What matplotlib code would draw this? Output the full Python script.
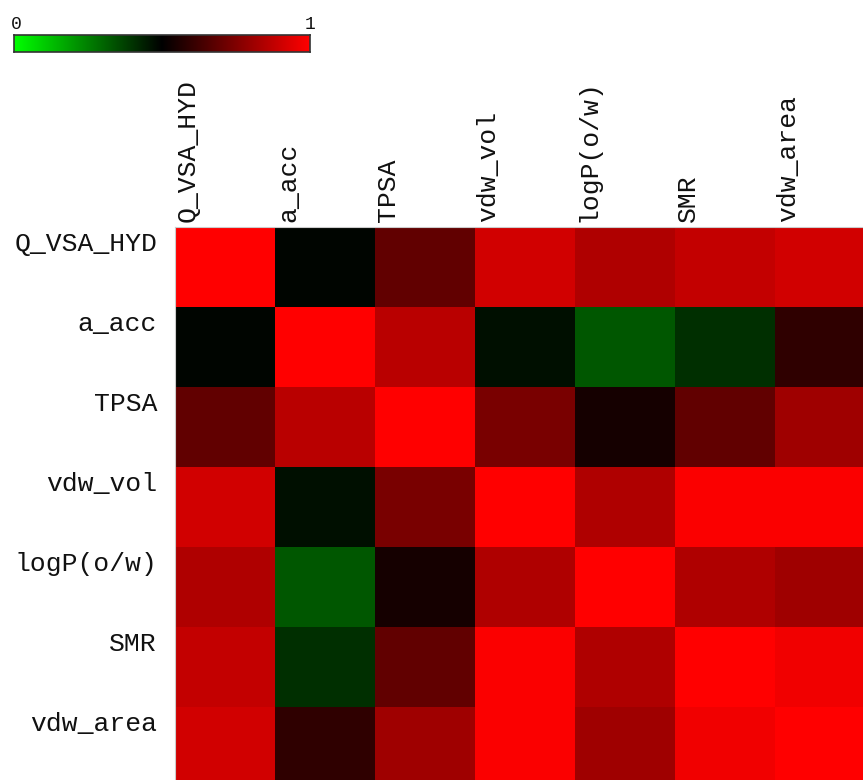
import numpy as np
import matplotlib
matplotlib.use("Agg")
import matplotlib.pyplot as plt
from matplotlib.colors import LinearSegmentedColormap

labels = ["Q_VSA_HYD", "a_acc", "TPSA", "vdw_vol", "logP(o/w)", "SMR", "vdw_area"]

row_q_vsa_hyd = [1.00, 0.49, 0.69, 0.91, 0.84, 0.88, 0.91]
row_a_acc     = [0.49, 1.00, 0.86, 0.47, 0.33, 0.41, 0.59]
row_tpsa      = [0.69, 0.86, 1.00, 0.735, 0.54, 0.69, 0.81]
row_vdw_vol   = [0.91, 0.47, 0.735, 1.00, 0.84, 0.99, 0.99]
row_logp      = [0.84, 0.33, 0.54, 0.84, 1.00, 0.84, 0.81]
row_smr       = [0.88, 0.41, 0.69, 0.99, 0.84, 1.00, 0.97]
row_vdw_area  = [0.91, 0.59, 0.81, 0.99, 0.81, 0.97, 1.00]

matrix = np.array([row_q_vsa_hyd, row_a_acc, row_tpsa, row_vdw_vol,
                   row_logp, row_smr, row_vdw_area])

cmap = LinearSegmentedColormap.from_list("gkr", [(0, 1, 0), (0, 0, 0), (1, 0, 0)])

W, H = 863, 780
fig = plt.figure(figsize=(W / 100, H / 100), dpi=100)
fig.patch.set_facecolor("white")

# heatmap axes: cells 100x80 px, starting at (175, 227)
left, top = 175, 227
cw, ch = 100, 80
n = len(labels)
ax = fig.add_axes([left / W, (H - (top + n * ch)) / H, n * cw / W, n * ch / H])
ax.pcolormesh(matrix, cmap=cmap, vmin=0, vmax=1)
ax.set_xlim(0, n)
ax.set_ylim(n, 0)
ax.set_xticks([])
ax.set_yticks([])
for s in ["right", "bottom"]:
    ax.spines[s].set_visible(False)
for s in ["left", "top"]:
    ax.spines[s].set_color("#cccccc")
    ax.spines[s].set_linewidth(0.8)

font = dict(family=["Liberation Mono", "DejaVu Sans Mono"], fontsize=19, color="#111111")
for j, lab in enumerate(labels):
    ax.text(j + 0.13, -0.06, lab, rotation=90, ha="center", va="bottom",
            clip_on=False, **font)
for i, lab in enumerate(labels):
    ax.text(-0.18, i + 0.21, lab, ha="right", va="center", clip_on=False, **font)

# colorbar
cax = fig.add_axes([14 / W, (H - 52) / H, 296 / W, 17 / H])
cax.imshow(np.linspace(0, 1, 256)[None, :], aspect="auto", cmap=cmap,
           extent=[0, 1, 0, 1], vmin=0, vmax=1)
cax.set_xlim(0, 1)
cax.set_ylim(0, 1)
cax.set_xticks([])
cax.set_yticks([])
for s in cax.spines.values():
    s.set_color("#333333")
    s.set_linewidth(1.2)
cfont = dict(family=["Liberation Mono", "DejaVu Sans Mono"], fontsize=13, color="#111111")
cax.text(-0.01, 1.1, "0", ha="left", va="bottom", **cfont)
cax.text(1.0, 1.1, "1", ha="center", va="bottom", **cfont)

fig.savefig("out.png", dpi=100)
